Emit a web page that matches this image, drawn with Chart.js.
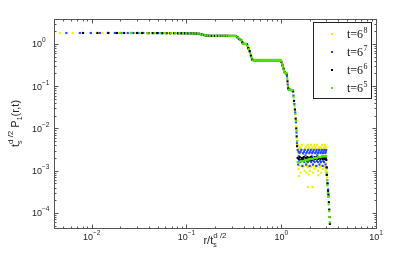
<!DOCTYPE html>
<html>
<head>
<meta charset="utf-8">
<script src="https://cdn.jsdelivr.net/npm/chart.js@4.4.0/dist/chart.umd.min.js"></script>
<style>
  html, body { margin: 0; padding: 0; background: #fff; }
  #wrap { width: 415px; height: 258px; }
</style>
</head>
<body>
<div id="wrap"><canvas id="chart" width="415" height="258"></canvas></div>
<script>
// axis ranges and ticks (log scales)
const xRange = [0.004, 10];
const yRange = [4.4e-5, 3.9];
const xTickExps = [-2, -1, 0, 1];
const yTickExps = [0, -1, -2, -3, -4];

// legend
const legendExps = ['8', '7', '6', '5'];
const seriesColors = ['#f0f000', '#2448ff', '#000000', '#4fe600'];

// t = 6^8
const t68Points = [
  [0.0046,1.82],[0.0063,1.82],[0.0079,1.82],[0.0096,1.82],[0.0113,1.82],[0.0130,1.82],[0.0150,1.82],[0.0172,1.82],
  [0.0195,1.82],[0.022,1.82],[0.025,1.82],[0.028,1.82],[0.031,1.82],[0.035,1.82],[0.039,1.81],[0.043,1.81],
  [0.048,1.81],[0.053,1.81],[0.058,1.80],[0.064,1.80],[0.070,1.80],[0.076,1.80],[0.083,1.79],[0.090,1.79],
  [0.097,1.79],[0.105,1.78],[0.113,1.78],[0.121,1.77],[0.130,1.76],[0.139,1.72],[0.148,1.66],[0.158,1.60],
  [0.168,1.57],[0.180,1.56],[0.192,1.56],[0.205,1.56],[0.220,1.56],[0.235,1.56],[0.250,1.56],[0.265,1.56],
  [0.280,1.56],[0.295,1.55],[0.310,1.55],[0.325,1.55],[0.340,1.47],[0.355,1.34],[0.370,1.26],[0.385,1.15],
  [0.400,1.0],[0.415,1.0],[0.430,1.0],[0.445,0.82],[0.460,0.70],[0.475,0.55],[0.490,0.44],[0.51,0.41],
  [0.54,0.41],[0.57,0.41],[0.60,0.41],[0.63,0.41],[0.66,0.41],[0.69,0.41],[0.72,0.41],[0.75,0.41],
  [0.78,0.41],[0.81,0.41],[0.84,0.41],[0.87,0.41],[0.90,0.41],[0.93,0.41],[0.96,0.41],[0.99,0.39],
  [1.02,0.33],[1.05,0.27],[1.08,0.22],[1.11,0.205],[1.14,0.20],[1.16,0.14],[1.18,0.095],[1.21,0.082],
  [1.24,0.082],[1.27,0.081],[1.30,0.081],[1.33,0.08],[1.36,0.045],[1.39,0.03],[1.42,0.018],[1.44,0.011],
  [1.455,0.006],[1.47,0.0042],
  [1.50,0.0041],[1.58,0.0036],[1.66,0.0041],[1.74,0.0031],[1.82,0.0036],[1.90,0.0041],[1.98,0.0036],[2.06,0.0041],
  [2.14,0.0036],[2.22,0.0041],[2.30,0.0036],[2.40,0.0041],[2.50,0.0036],[2.60,0.0036],[2.70,0.0041],[2.80,0.0036],
  [2.90,0.0041],
  [1.54,0.0033],[1.62,0.0033],[1.78,0.0033],[1.94,0.0033],[2.10,0.0033],[2.26,0.0033],[2.45,0.0033],[2.65,0.0033],
  [2.85,0.0033],[2.97,0.0036],
  [1.52,0.0011],[1.60,0.0009],[1.68,0.0012],[1.76,0.0010],[1.84,0.0009],[1.92,0.0012],[2.00,0.0010],[2.08,0.0012],
  [2.16,0.0009],[2.24,0.0011],[2.34,0.0012],[2.44,0.0010],[2.54,0.0012],[2.64,0.0009],[2.74,0.0011],[2.84,0.0012],
  [2.94,0.0010],
  [1.57,0.0013],[1.72,0.0013],[1.88,0.0013],[2.04,0.0013],[2.20,0.0013],[2.38,0.0013],[2.58,0.0013],[2.78,0.0013],
  [1.55,0.0028],[1.70,0.0025],[1.86,0.0015],[2.02,0.0028],[2.18,0.0014],[2.36,0.0026],[2.56,0.0015],[2.76,0.0027],
  [2.96,0.0015],[1.54,0.00075],[1.94,0.00082],[2.45,0.00078],[1.91,0.00041],[2.15,0.00041],
  [3.02,0.0011],[3.05,0.0007]
];

// t = 6^7
const t67Points = [
  [0.0054,1.82],[0.0075,1.82],[0.0098,1.82],[0.0122,1.82],[0.0148,1.82],[0.0176,1.82],[0.0206,1.82],[0.024,1.82],
  [0.0275,1.82],[0.031,1.82],[0.035,1.82],[0.040,1.81],[0.045,1.81],[0.050,1.81],[0.056,1.80],[0.062,1.80],
  [0.068,1.80],[0.075,1.80],[0.082,1.79],[0.089,1.79],[0.096,1.79],[0.104,1.78],[0.112,1.78],[0.120,1.77],
  [0.128,1.76],[0.136,1.74],[0.145,1.68],[0.154,1.62],[0.163,1.58],[0.174,1.57],[0.186,1.56],[0.198,1.56],
  [0.212,1.56],[0.227,1.56],[0.242,1.56],[0.257,1.56],[0.272,1.56],[0.288,1.55],[0.303,1.55],[0.318,1.55],
  [0.333,1.53],[0.347,1.42],[0.362,1.30],[0.377,1.24],[0.392,1.05],[0.408,1.0],[0.423,1.0],[0.438,0.95],
  [0.452,0.78],[0.467,0.64],[0.482,0.50],[0.497,0.42],[0.525,0.41],[0.555,0.41],[0.585,0.41],[0.615,0.41],
  [0.645,0.41],[0.675,0.41],[0.705,0.41],[0.735,0.41],[0.765,0.41],[0.795,0.41],[0.825,0.41],[0.855,0.41],
  [0.885,0.41],[0.915,0.41],[0.945,0.41],[0.975,0.41],[1.005,0.37],[1.035,0.30],[1.065,0.25],[1.095,0.21],
  [1.125,0.205],[1.15,0.17],[1.17,0.11],[1.195,0.085],[1.225,0.082],[1.255,0.082],[1.285,0.081],[1.315,0.081],
  [1.345,0.06],[1.375,0.038],[1.405,0.024],[1.43,0.014],[1.448,0.008],[1.465,0.0045],
  [1.49,0.0031],[1.56,0.0026],[1.63,0.0031],[1.70,0.0026],[1.77,0.0031],[1.84,0.0026],[1.91,0.0031],[1.98,0.0026],
  [2.05,0.0031],[2.12,0.0026],[2.20,0.0031],[2.28,0.0026],[2.36,0.0031],[2.44,0.0026],[2.52,0.0031],[2.60,0.0026],
  [2.68,0.0031],[2.76,0.0026],[2.84,0.0031],[2.92,0.0026],[2.98,0.0031],
  [1.52,0.0028],[1.60,0.0028],[1.74,0.0028],[1.88,0.0028],[2.02,0.0028],[2.16,0.0028],[2.32,0.0028],[2.48,0.0028],
  [2.64,0.0028],[2.80,0.0028],[2.95,0.0028],
  [1.51,0.0014],[1.59,0.0016],[1.67,0.0013],[1.75,0.0016],[1.83,0.0014],[1.91,0.0016],[1.99,0.0013],[2.07,0.0016],
  [2.16,0.0014],[2.25,0.0016],[2.34,0.0013],[2.43,0.0016],[2.53,0.0014],[2.63,0.0016],[2.73,0.0013],[2.83,0.0016],
  [2.93,0.0014],
  [1.55,0.0017],[1.71,0.0017],[1.87,0.0017],[2.03,0.0017],[2.20,0.0017],[2.38,0.0017],[2.58,0.0017],[2.78,0.0017],
  [1.53,0.0022],[1.80,0.0023],[2.10,0.0022],[2.40,0.0023],[2.70,0.0022],
  [3.01,0.0012],[3.04,0.0008],[3.08,0.0005],[3.12,0.00036],[3.16,0.00025]
];

// t = 6^6
const t66Points = [
  [0.0081,1.82],[0.0115,1.82],[0.0150,1.82],[0.0185,1.82],[0.022,1.82],[0.026,1.82],[0.030,1.82],[0.034,1.82],
  [0.039,1.81],[0.044,1.81],[0.049,1.81],[0.055,1.80],[0.061,1.80],[0.067,1.80],[0.074,1.80],[0.081,1.79],
  [0.088,1.79],[0.095,1.79],[0.102,1.78],[0.110,1.78],[0.118,1.77],[0.126,1.76],[0.134,1.75],[0.142,1.70],
  [0.151,1.64],[0.160,1.59],[0.170,1.57],[0.182,1.56],[0.195,1.56],[0.209,1.56],[0.224,1.56],[0.239,1.56],
  [0.254,1.56],[0.269,1.56],[0.284,1.55],[0.299,1.55],[0.314,1.55],[0.329,1.55],[0.343,1.45],[0.358,1.32],
  [0.373,1.25],[0.388,1.10],[0.404,1.0],[0.419,1.0],[0.434,0.98],[0.449,0.80],[0.464,0.68],[0.479,0.53],
  [0.494,0.43],[0.52,0.41],[0.55,0.41],[0.58,0.41],[0.61,0.41],[0.64,0.41],[0.67,0.41],[0.70,0.41],
  [0.73,0.41],[0.76,0.41],[0.79,0.41],[0.82,0.41],[0.85,0.41],[0.88,0.41],[0.91,0.41],[0.94,0.41],
  [0.97,0.41],[1.00,0.38],[1.03,0.32],[1.06,0.26],[1.09,0.215],[1.12,0.205],[1.145,0.19],[1.165,0.13],
  [1.185,0.09],[1.215,0.082],[1.245,0.082],[1.275,0.081],[1.305,0.081],[1.335,0.075],[1.365,0.045],[1.395,0.028],
  [1.42,0.017],[1.44,0.010],[1.455,0.0065],[1.47,0.0038],
  [1.49,0.0020],[1.53,0.0019],[1.57,0.0021],[1.61,0.0018],[1.65,0.0020],[1.69,0.0019],[1.73,0.0021],[1.77,0.0018],
  [1.81,0.0020],[1.85,0.0019],[1.89,0.0021],[1.93,0.0018],[1.97,0.0020],[2.01,0.0019],[2.05,0.0021],[2.10,0.0018],
  [2.15,0.0020],[2.20,0.0019],[2.25,0.0021],[2.30,0.0019],[2.35,0.0020],[2.40,0.0021],[2.45,0.0019],[2.50,0.0020],
  [2.55,0.0021],[2.60,0.0019],[2.65,0.0020],[2.70,0.0021],[2.75,0.0019],[2.80,0.0020],[2.85,0.0021],[2.90,0.0019],
  [2.95,0.0020],[2.99,0.0018],
  [3.01,0.0012],[3.02,0.0008],[3.05,0.0006],[3.08,0.0005],[3.12,0.00033],[3.14,0.00028],[3.18,0.00018],[3.21,0.00012],
  [3.24,0.00008],[3.26,0.000055]
];

// t = 6^5
const t65Points = [
  [0.020,1.82],[0.026,1.82],[0.032,1.82],[0.039,1.81],[0.046,1.81],[0.053,1.81],[0.060,1.80],[0.068,1.80],
  [0.076,1.80],[0.084,1.79],[0.092,1.79],[0.100,1.78],[0.108,1.78],[0.116,1.77],[0.124,1.77],[0.132,1.75],
  [0.140,1.71],[0.148,1.66],[0.157,1.61],[0.166,1.58],[0.176,1.57],[0.190,1.56],[0.205,1.56],[0.22,1.56],
  [0.235,1.56],[0.25,1.56],[0.265,1.56],[0.28,1.55],[0.295,1.55],[0.31,1.55],[0.325,1.55],[0.338,1.50],
  [0.352,1.38],[0.366,1.28],[0.38,1.22],[0.395,1.02],[0.41,1.0],[0.425,1.0],[0.44,0.90],[0.455,0.76],
  [0.47,0.60],[0.485,0.48],[0.50,0.41],
  [0.515,0.40],[0.53,0.42],[0.545,0.40],[0.56,0.42],[0.575,0.40],[0.59,0.42],[0.605,0.40],[0.62,0.42],
  [0.635,0.40],[0.65,0.42],[0.665,0.40],[0.68,0.42],[0.695,0.40],[0.71,0.42],[0.725,0.40],[0.74,0.42],
  [0.755,0.40],[0.77,0.42],[0.785,0.40],[0.80,0.42],[0.815,0.40],[0.83,0.42],[0.845,0.40],[0.86,0.42],
  [0.875,0.40],[0.89,0.42],[0.905,0.40],[0.92,0.42],[0.935,0.40],[0.95,0.42],[0.965,0.40],[0.98,0.42],
  [1.0,0.39],[1.02,0.34],[1.04,0.30],[1.06,0.25],[1.08,0.22],[1.10,0.207],[1.12,0.205],[1.14,0.20],
  [1.16,0.15],[1.18,0.10],[1.20,0.083],[1.23,0.082],[1.26,0.082],[1.29,0.081],[1.32,0.081],[1.35,0.055],
  [1.38,0.035],[1.41,0.022],[1.43,0.015],[1.45,0.009],[1.47,0.005],
  [1.49,0.0016],[1.55,0.0016],[1.61,0.0017],[1.67,0.0017],[1.73,0.0017],[1.79,0.0018],[1.85,0.0018],[1.91,0.0018],
  [1.97,0.0019],[2.03,0.0019],[2.09,0.0019],[2.15,0.0019],[2.21,0.0020],[2.27,0.0020],[2.33,0.0020],[2.39,0.0020],
  [2.45,0.0021],[2.51,0.0021],[2.57,0.0021],[2.63,0.0021],[2.69,0.0022],[2.75,0.0022],[2.81,0.0022],[2.87,0.0022],
  [2.93,0.0022],[2.98,0.0022],
  [3.01,0.0009],[3.04,0.0006],[3.07,0.00045],[3.10,0.0003],[3.13,0.00024],[3.17,0.00016],[3.20,0.00011],[3.23,0.00008],
  [3.25,0.00006]
];

const allSeries = [t68Points, t67Points, t66Points, t65Points];

const SANS = "'Liberation Sans', Arial, sans-serif";
const SERIF = "'Liberation Serif', 'Times New Roman', serif";

// draw a run of text pieces; a piece with stack:true shares its x with the previous one
function drawPieces(ctx, pieces, x0, y0) {
  let x = x0, lastStart = x0, lastW = 0;
  pieces.forEach(p => {
    ctx.font = p.size + 'px ' + SANS;
    const w = ctx.measureText(p.text).width;
    let px = x;
    if (p.stack) {
      px = lastStart;
      x = lastStart + Math.max(lastW, w);
    } else {
      lastStart = x;
      lastW = w;
      x += w;
    }
    ctx.fillText(p.text, px, y0 + (p.dy || 0));
  });
  return x - x0;
}

function piecesWidth(ctx, pieces) {
  ctx.save();
  ctx.globalAlpha = 0;
  const w = drawPieces(ctx, pieces, 0, 0);
  ctx.restore();
  return w;
}

const decorPlugin = {
  id: 'decor',
  afterDatasetsDraw(chart) {
    const ctx = chart.ctx;
    const a = chart.chartArea;
    const xs = chart.scales.x, ys = chart.scales.y;
    const L = Math.round(a.left) + 0.5, R = Math.round(a.right) + 0.5;
    const T = Math.round(a.top) + 0.5, B = Math.round(a.bottom) + 0.5;
    ctx.save();

    // frame
    ctx.strokeStyle = '#555';
    ctx.lineWidth = 1;
    ctx.strokeRect(L, T, R - L, B - T);

    // ticks on all four sides, pointing inwards
    ctx.beginPath();
    for (let e = -3; e <= 1; e++) {
      for (let m = 1; m <= 9; m++) {
        const v = m * Math.pow(10, e);
        if (v < xRange[0] || v > xRange[1]) continue;
        const px = Math.round(xs.getPixelForValue(v)) + 0.5;
        const len = m === 1 ? 4 : 2;
        ctx.moveTo(px, B); ctx.lineTo(px, B - len);
        ctx.moveTo(px, T); ctx.lineTo(px, T + len);
      }
    }
    for (let e = -5; e <= 0; e++) {
      for (let m = 1; m <= 9; m++) {
        const v = m * Math.pow(10, e);
        if (v < yRange[0] || v > yRange[1]) continue;
        const py = Math.round(ys.getPixelForValue(v)) + 0.5;
        const len = m === 1 ? 4 : 2;
        ctx.moveTo(L, py); ctx.lineTo(L + len, py);
        ctx.moveTo(R, py); ctx.lineTo(R - len, py);
      }
    }
    ctx.stroke();

    // tick labels
    ctx.fillStyle = '#222';
    ctx.textBaseline = 'alphabetic';
    ctx.textAlign = 'left';
    xTickExps.forEach(e => {
      const px = xs.getPixelForValue(Math.pow(10, e));
      const pieces = [{text: '10', size: 9}, {text: String(e).replace('-', '\u2212'), size: 6.5, dy: -5}];
      const w = piecesWidth(ctx, pieces);
      drawPieces(ctx, pieces, px - w / 2, 240);
    });
    yTickExps.forEach(e => {
      const py = ys.getPixelForValue(Math.pow(10, e));
      ctx.font = '9px ' + SANS;
      const w10 = ctx.measureText('10').width;
      drawPieces(ctx, [{text: '10', size: 9}, {text: String(e).replace('-', '\u2212'), size: 6.5, dy: -5}], 42 - w10, py + 3.5);
    });

    // x axis label
    const xl = [{text: 'r/t', size: 11}, {text: 's', size: 7, dy: 3}, {text: 'd /2', size: 8, dy: -6, stack: true}];
    const xw = piecesWidth(ctx, xl);
    drawPieces(ctx, xl, (a.left + a.right) / 2 - xw / 2, 244);

    // y axis label (rotated)
    const yl = [{text: 't', size: 11}, {text: 's', size: 7, dy: 3}, {text: 'd /2', size: 8, dy: -6, stack: true},
                {text: ' P', size: 11}, {text: '1', size: 7, dy: 3}, {text: '(r,t)', size: 11}];
    const yw = piecesWidth(ctx, yl);
    ctx.save();
    ctx.translate(19, (a.top + a.bottom) / 2);
    ctx.rotate(-Math.PI / 2);
    drawPieces(ctx, yl, -yw / 2, 0);
    ctx.restore();

    // legend box
    const bx = 313.5, by = 22.5, bw = 58, bh = 76;
    ctx.fillStyle = '#fff';
    ctx.fillRect(bx, by, bw, bh);
    ctx.strokeStyle = '#222';
    ctx.strokeRect(bx, by, bw, bh);
    legendExps.forEach((ex, i) => {
      const cy = 34 + i * 18;
      ctx.fillStyle = seriesColors[i];
      ctx.fillRect(331, cy - 1, 2, 2);
      ctx.fillStyle = '#111';
      ctx.font = '12px ' + SERIF;
      ctx.fillText('t=6', 347, cy + 4);
      const w = ctx.measureText('t=6').width;
      ctx.font = '8px ' + SERIF;
      ctx.fillText(ex, 347 + w + 0.5, cy - 1.5);
    });

    ctx.restore();
  }
};

const datasets = allSeries.map((pts, i) => ({
  label: 't=6^' + legendExps[i],
  data: pts.map(p => ({x: p[0], y: p[1]})),
  backgroundColor: seriesColors[i],
  borderWidth: 0,
  pointStyle: 'rect',
  pointRadius: 1.5,
  order: 4 - i
}));

new Chart(document.getElementById('chart'), {
  type: 'scatter',
  data: { datasets: datasets },
  options: {
    responsive: false,
    animation: false,
    devicePixelRatio: 1,
    layout: { padding: { left: 54, top: 19, right: 39, bottom: 30 } },
    plugins: { legend: { display: false }, tooltip: { enabled: false } },
    scales: {
      x: { type: 'logarithmic', min: xRange[0], max: xRange[1], bounds: 'data', display: false },
      y: { type: 'logarithmic', min: yRange[0], max: yRange[1], bounds: 'data', display: false }
    }
  },
  plugins: [decorPlugin]
});
</script>
</body>
</html>
